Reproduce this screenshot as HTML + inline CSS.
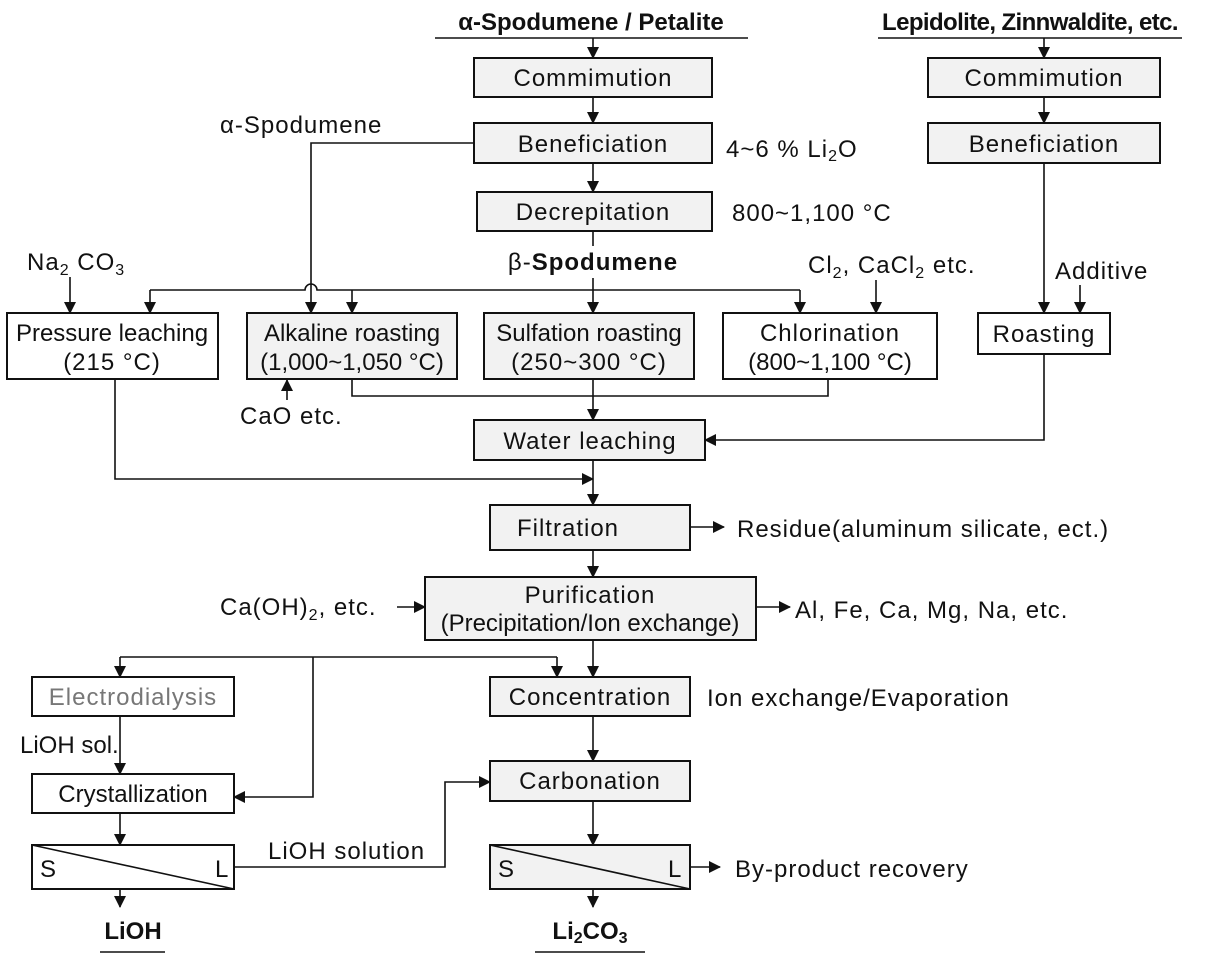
<!DOCTYPE html>
<html><head><meta charset="utf-8"><style>
html,body{margin:0;padding:0;background:#fff}
svg{display:block}
text{font-family:"Liberation Sans",Arial,sans-serif;font-size:24px;letter-spacing:1px;fill:#111}
text.t{letter-spacing:0}
text.tt{letter-spacing:-0.6px}
.g{fill:#f2f2f2;stroke:#111;stroke-width:2}
.w{fill:#fff;stroke:#111;stroke-width:2}
.l{fill:none;stroke:#111;stroke-width:1.6}
</style></head><body>
<svg width="1220" height="962" viewBox="0 0 1220 962" xmlns="http://www.w3.org/2000/svg">
<defs><marker id="a" markerWidth="12" markerHeight="12" refX="11" refY="6" orient="auto" markerUnits="userSpaceOnUse"><path d="M0,0 L12,6 L0,12 z" fill="#111"/></marker></defs>

<text x="591" y="30" text-anchor="middle" font-weight="bold" class="t">α-Spodumene / Petalite</text>
<line x1="435" y1="38" x2="748" y2="38" class="l"/>
<text x="1030" y="30" text-anchor="middle" font-weight="bold" class="tt">Lepidolite, Zinnwaldite, etc.</text>
<line x1="878" y1="38" x2="1182" y2="38" class="l"/>

<rect x="474" y="58" width="238" height="39" class="g"/><text x="593" y="86" text-anchor="middle">Commimution</text>
<rect x="474" y="123" width="238" height="40" class="g"/><text x="593" y="152" text-anchor="middle">Beneficiation</text>
<rect x="477" y="192" width="235" height="39" class="g"/><text x="593" y="220" text-anchor="middle">Decrepitation</text>
<rect x="928" y="58" width="232" height="39" class="g"/><text x="1044" y="86" text-anchor="middle">Commimution</text>
<rect x="928" y="123" width="232" height="40" class="g"/><text x="1044" y="152" text-anchor="middle">Beneficiation</text>

<rect x="7" y="313" width="211" height="66" class="w"/><text x="112" y="341" text-anchor="middle" class="t">Pressure leaching</text><text x="112" y="370" text-anchor="middle">(215 °C)</text>
<rect x="247" y="313" width="210" height="66" class="g"/><text x="352" y="341" text-anchor="middle" class="t">Alkaline roasting</text><text x="352" y="370" text-anchor="middle" class="t">(1,000~1,050 °C)</text>
<rect x="484" y="313" width="210" height="66" class="g"/><text x="589" y="341" text-anchor="middle" class="t">Sulfation roasting</text><text x="589" y="370" text-anchor="middle">(250~300 °C)</text>
<rect x="723" y="313" width="214" height="66" class="w"/><text x="830" y="341" text-anchor="middle">Chlorination</text><text x="830" y="370" text-anchor="middle" class="t">(800~1,100 °C)</text>
<rect x="978" y="313" width="132" height="41" class="w"/><text x="1044" y="342" text-anchor="middle">Roasting</text>

<rect x="474" y="420" width="231" height="40" class="g"/><text x="590" y="449" text-anchor="middle">Water leaching</text>
<rect x="490" y="505" width="200" height="45" class="g"/><text x="568" y="536" text-anchor="middle">Filtration</text>
<rect x="425" y="577" width="331" height="63" class="g"/><text x="590" y="603" text-anchor="middle">Purification</text><text x="590" y="631" text-anchor="middle" class="t">(Precipitation/Ion exchange)</text>

<rect x="32" y="677" width="202" height="39" class="w"/><text x="133" y="705" text-anchor="middle" style="fill:#777">Electrodialysis</text>
<rect x="490" y="677" width="200" height="39" class="g"/><text x="590" y="705" text-anchor="middle">Concentration</text>
<rect x="32" y="774" width="202" height="39" class="w"/><text x="133" y="802" text-anchor="middle" class="t">Crystallization</text>
<rect x="490" y="761" width="200" height="40" class="g"/><text x="590" y="789" text-anchor="middle">Carbonation</text>
<rect x="32" y="845" width="202" height="44" class="w"/><line x1="32" y1="845" x2="234" y2="889" class="l"/><text x="40" y="877">S</text><text x="215" y="877">L</text>
<rect x="490" y="845" width="200" height="44" class="g"/><line x1="490" y1="845" x2="690" y2="889" class="l"/><text x="498" y="877">S</text><text x="668" y="877">L</text>

<text x="220" y="133">α-Spodumene</text>
<text x="726" y="157">4~6 % Li<tspan font-size="16" dy="4">2</tspan><tspan dy="-4">O</tspan></text>
<text x="732" y="221">800~1,100 °C</text>
<text x="593" y="270" text-anchor="middle"><tspan>β-</tspan><tspan font-weight="bold">Spodumene</tspan></text>
<text x="27" y="270">Na<tspan font-size="16" dy="5">2</tspan><tspan dy="-5"> CO</tspan><tspan font-size="16" dy="5">3</tspan></text>
<text x="808" y="273">Cl<tspan font-size="16" dy="5">2</tspan><tspan dy="-5">, CaCl</tspan><tspan font-size="16" dy="5">2</tspan><tspan dy="-5"> etc.</tspan></text>
<text x="1055" y="279">Additive</text>
<text x="240" y="424">CaO etc.</text>
<text x="737" y="537">Residue(aluminum silicate, ect.)</text>
<text x="220" y="615">Ca(OH)<tspan font-size="16" dy="5">2</tspan><tspan dy="-5">, etc.</tspan></text>
<text x="795" y="618">Al, Fe, Ca, Mg, Na, etc.</text>
<text x="707" y="706">Ion exchange/Evaporation</text>
<text x="20" y="753" class="t">LiOH sol.</text>
<text x="268" y="859">LiOH solution</text>
<text x="735" y="877">By-product recovery</text>
<text x="133" y="939" text-anchor="middle" font-weight="bold" class="t">LiOH</text>
<line x1="100" y1="952" x2="165" y2="952" class="l"/>
<text x="590" y="939" text-anchor="middle" font-weight="bold" class="t">Li<tspan font-size="16" dy="4">2</tspan><tspan dy="-4">CO</tspan><tspan font-size="16" dy="4">3</tspan></text>
<line x1="535" y1="952" x2="645" y2="952" class="l"/>

<g class="l" marker-end="url(#a)">
<line x1="593" y1="38" x2="593" y2="58"/>
<line x1="593" y1="97" x2="593" y2="123"/>
<line x1="593" y1="163" x2="593" y2="192"/>
<line x1="1044" y1="38" x2="1044" y2="58"/>
<line x1="1044" y1="97" x2="1044" y2="123"/>
<line x1="1044" y1="163" x2="1044" y2="313"/>
<line x1="1080" y1="285" x2="1080" y2="313"/>
<line x1="876" y1="280" x2="876" y2="313"/>
<line x1="70" y1="277" x2="70" y2="313"/>
<path d="M474,143 H311 V313"/>
<path d="M800,290 V313"/>
<path d="M593,278 V313"/>
<path d="M352,290 V313"/>
<path d="M150,290 V313"/>
<line x1="287" y1="400" x2="287" y2="380"/>
<line x1="593" y1="379" x2="593" y2="420"/>
<path d="M1044,354 V440 H705"/>
<path d="M115,379 V479 H593"/>
<line x1="593" y1="460" x2="593" y2="505"/>
<line x1="690" y1="527" x2="724" y2="527"/>
<line x1="593" y1="550" x2="593" y2="577"/>
<line x1="397" y1="607" x2="425" y2="607"/>
<line x1="756" y1="607" x2="790" y2="607"/>
<line x1="593" y1="640" x2="593" y2="677"/>
<path d="M120,657 V677"/>
<path d="M557,657 V677"/>
<path d="M313,657 V797 H234"/>
<line x1="120" y1="716" x2="120" y2="774"/>
<line x1="593" y1="716" x2="593" y2="761"/>
<line x1="120" y1="813" x2="120" y2="845"/>
<line x1="593" y1="801" x2="593" y2="845"/>
<path d="M234,867 H445 V782 H490"/>
<line x1="690" y1="867" x2="720" y2="867"/>
<line x1="120" y1="889" x2="120" y2="907"/>
<line x1="593" y1="889" x2="593" y2="907"/>
</g>
<g class="l">
<line x1="593" y1="231" x2="593" y2="246"/>
<path d="M150,290 H305 A6,6 0 0 1 317,290 H800"/>
<path d="M352,379 V396 H828 V379"/>
<line x1="120" y1="657" x2="557" y2="657"/>
</g>
</svg>
</body></html>
